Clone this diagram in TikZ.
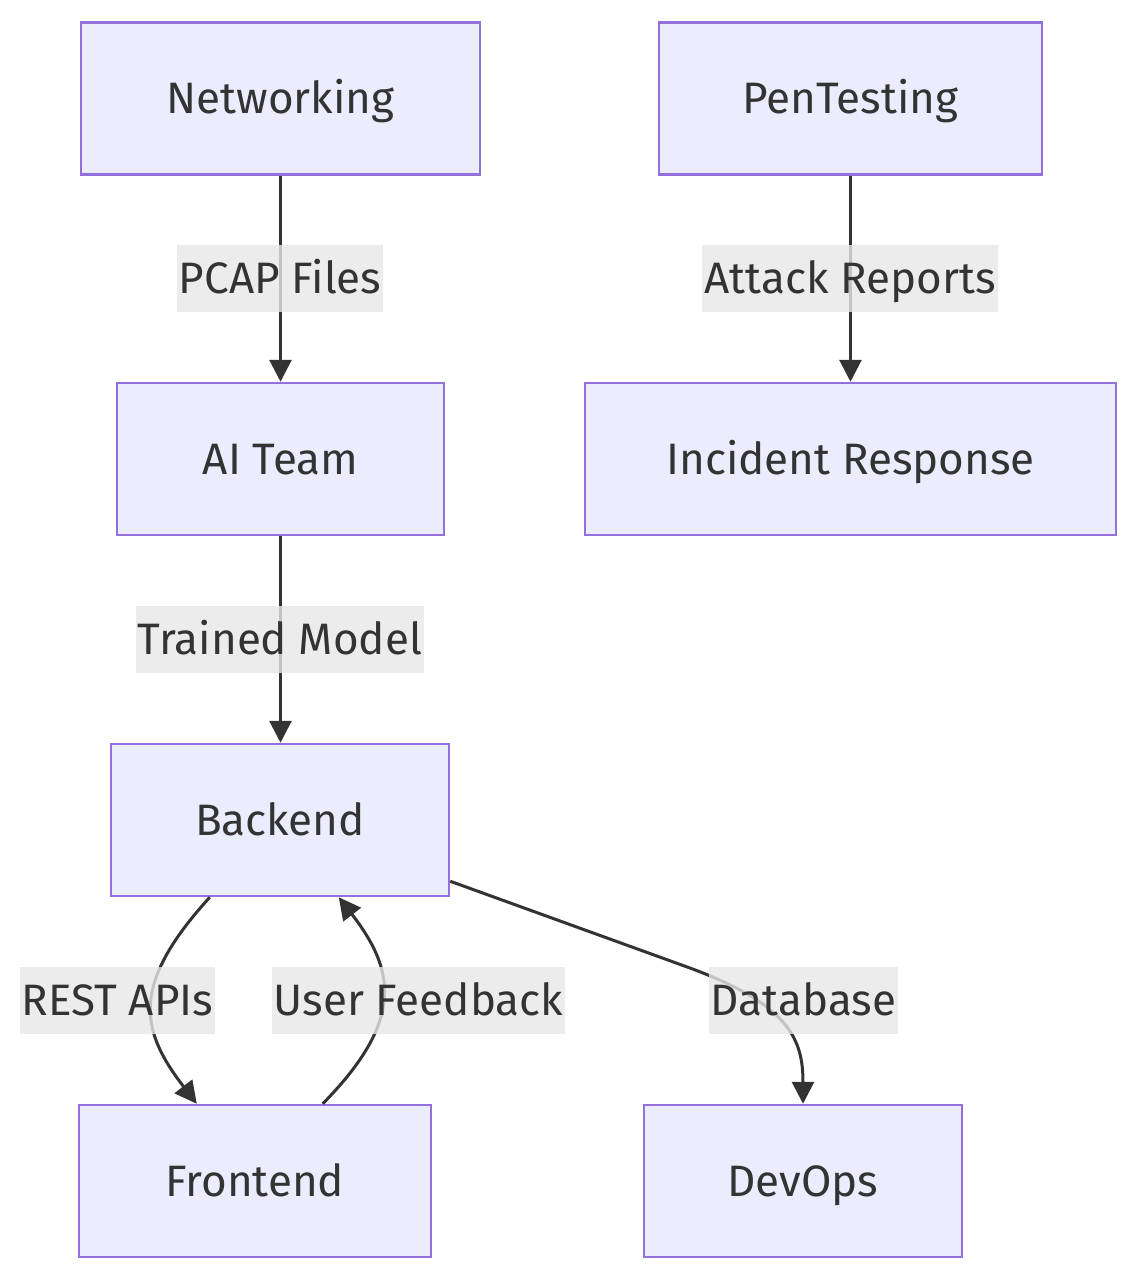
\documentclass[tikz,border=0pt]{standalone}
\usepackage{fontspec}
\setmainfont{Fira Sans}
\usetikzlibrary{arrows.meta}
\definecolor{nodefill}{HTML}{ECECFF}
\definecolor{nodeborder}{HTML}{9370DB}
\definecolor{ink}{HTML}{333333}
\definecolor{lblfill}{HTML}{E8E8E8}
\begin{document}
\begin{tikzpicture}[x=1pt,y=-1pt,
  box/.style={draw=nodeborder, fill=nodefill, line width=2.5pt, minimum height=152pt,
    text=ink, font=\fontsize{44}{52}\selectfont, inner sep=0pt, text height=30pt, text depth=0pt},
  lbl/.style={fill=lblfill, fill opacity=0.8, text opacity=1, text=ink, minimum height=67pt,
    inner xsep=2pt, inner ysep=0pt, font=\fontsize{44}{52}\selectfont, text height=30pt, text depth=0pt},
  edge/.style={draw=ink, line width=3pt, -{Triangle[length=22pt,width=22pt]}}]
\useasboundingbox (0,0) rectangle (1139,1280);
\fill[white] (0,0) rectangle (1139,1280);

\node[box, minimum width=399pt] (net) at (280.5,98.5) {Networking};
\node[box, minimum width=383pt] (pen) at (850.5,98.5) {PenTesting};
\node[box, minimum width=327pt] (ai) at (280.5,459) {AI Team};
\node[box, minimum width=531pt] (inc) at (850.5,459) {Incident Response};
\node[box, minimum width=338pt] (be) at (280,820) {Backend};
\node[box, minimum width=352pt] (fe) at (255,1181) {Frontend};
\node[box, minimum width=318pt] (dev) at (803,1181) {DevOps};

\draw[edge] (net.south) -- (ai.north);
\draw[edge] (pen.south) -- (inc.north);
\draw[edge] (ai.south) -- (ai.south |- be.north);
\draw[edge] ([xshift=100pt]be.south west) .. controls (130,985) and (140,1030) .. ([xshift=119pt]fe.north west);
\draw[edge] ([xshift=245pt]fe.north west) .. controls (405,1020) and (395,970) .. ([xshift=229pt]be.south west);
\draw[edge] ([yshift=16pt]be.south east) -- (690,968) .. controls (790,1005) and (803,1040) .. (dev.north);

\node[lbl] (l1) at (280,278.5) {PCAP Files};
\node[lbl] (l2) at (850,278.5) {Attack Reports};
\node[lbl] (l3) at (280,639.5) {Trained Model};
\node[lbl] (l4) at (117.5,1000) {REST APIs};
\node[lbl] (l5) at (418.5,1000) {User Feedback};
\node[lbl] (l6) at (803.5,1000) {Database};
\end{tikzpicture}
\end{document}
